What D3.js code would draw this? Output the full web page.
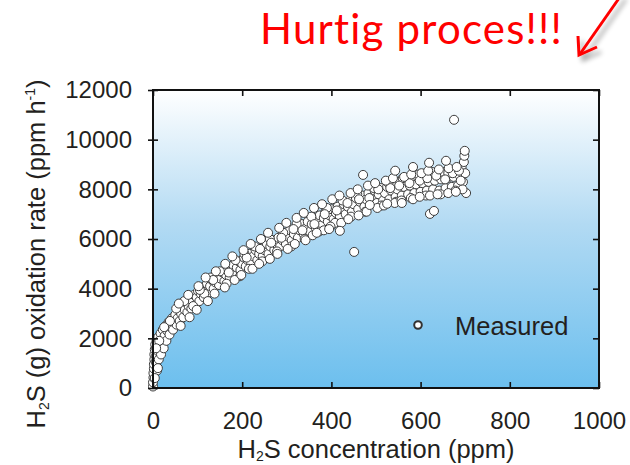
<!DOCTYPE html>
<html>
<head>
<meta charset="utf-8">
<script src="https://cdn.jsdelivr.net/npm/d3@7"></script>
<style>
    body { margin: 0; background: #fff; }
    text { font-family: "Liberation Sans", Arial, sans-serif; fill: #231f20; }
</style>
</head>
<body>
<script>
// tick labels for both axes
var xTicks = [0, 200, 400, 600, 800, 1000];
var yTicks = [0, 2000, 4000, 6000, 8000, 10000, 12000];

// measured points: [H2S concentration (ppm), oxidation rate (ppm h-1)]
var measured = [
    [0,60],[0,230],[1,420],[1,600],[2,780],[2,960],[3,1150],[3,1350],[4,1550],[5,1750],
    [6,1050],[7,1300],[8,1900],[9,700],[10,1500],[12,2050],[13,1150],[15,1700],[17,2200],[18,1350],
    [20,1900],[22,2350],[24,1600],[26,2100],[28,2500],[30,1900],[32,2300],[35,2650],[37,2150],[40,2450],
    [42,2800],[45,2350],[47,2650],[50,2950],[53,2550],[55,2800],[58,3150],[60,2700],[63,3000],[66,3300],
    [68,2850],[71,3150],[74,3450],[77,3050],[80,3300],[83,3600],[86,3200],[89,3500],[92,3750],[95,3350],
    [98,3650],[101,3900],[104,3500],[107,3800],[110,4050],[114,3650],[118,3950],[121,4200],[125,3850],[128,4100],
    [132,4350],[136,4000],[140,4250],[144,4500],[148,4150],[152,4400],[156,4650],[160,4300],[164,4550],[168,4800],
    [172,4450],[176,4700],[180,4950],[184,4600],[188,4850],[192,5100],[196,4750],[200,5000],[204,5250],[208,4900],
    [212,5150],[216,5400],[220,5050],[225,5300],[230,5550],[234,5150],[238,5400],[242,5650],[246,5300],[250,5550],
    [255,5800],[259,5400],[263,5700],[268,5950],[272,5550],[276,5800],[281,6050],[285,5700],[290,5950],[294,6200],
    [298,5800],[303,6100],[307,6350],[311,5950],[316,6200],[320,6450],[325,6050],[329,6350],[334,6600],[338,6200],
    [343,6450],[347,6700],[352,6300],[356,6600],[360,6850],[365,6450],[369,6700],[374,6950],[378,6550],[383,6850],
    [387,7100],[392,6700],[396,6950],[400,7200],[405,6800],[410,7050],[414,7300],[419,6900],[423,7200],[428,7400],
    [432,7000],[437,7300],[441,7550],[446,7100],[450,7400],[455,7650],[460,7200],[464,7500],[469,7750],[474,7300],
    [478,7600],[483,7850],[488,7400],[492,7700],[497,7950],[502,7450],[506,7800],[511,8050],[516,7550],[520,7850],
    [525,8100],[530,7600],[534,7950],[539,8200],[544,7700],[548,8000],[553,8300],[558,7750],[562,8100],[567,8350],
    [572,7800],[576,8150],[581,8400],[586,7850],[590,8200],[595,8450],[600,7900],[604,8250],[609,8550],[614,7950],
    [618,8300],[623,8600],[628,8000],[632,8350],[637,8650],[642,7950],[646,8400],[651,8700],[656,8050],[660,8450],
    [665,8750],[670,8100],[674,8500],[679,8800],[684,8150],[688,8550],[692,8900],[695,8300],[697,9100],[698,9350],
    [699,9550],[700,8650],[702,7850],[694,8000],
    [205,5400],[215,4800],[228,5700],[245,5100],[262,6000],[278,5500],[292,6250],[310,5700],[322,6600],[340,6000],
    [355,6900],[372,6300],[390,7250],[408,6650],[425,7550],[444,6900],[458,7800],[476,7100],[495,8050],[512,7350],
    [528,8250],[545,7500],[560,8450],[578,7650],[596,8600],[612,7750],[626,8700],[645,7800],[662,8650],[678,7950],
    [690,8350],[150,4700],[165,4200],[185,5150],[195,4500],[130,4450],[115,3800],[90,3300],[70,3500],[52,3200],
    [38,2700],[25,2450],[14,1900],[11,800],[7,1600],[4,400],
    // lower side of the band
    [62,2500],[82,2850],[98,3150],[123,3500],[138,3800],[161,4050],[183,4350],[198,4550],[223,4800],[238,5000],
    [262,5200],[279,5400],[302,5600],[318,5800],[342,5950],[358,6150],[383,6350],[398,6500],[422,6650],[438,6800],
    [461,6950],[479,7100],[503,7250],[518,7350],[542,7450],[557,7550],[583,7600],[598,7700],[621,7750],[638,7800],
    [662,7850],[679,7900],
    // middle fill
    [105,3950],[135,4350],[170,4650],[210,5250],[240,5600],[265,5850],[288,6050],[315,6400],[335,6350],[362,6600],
    [385,7000],[412,7150],[436,7450],[462,7600],[485,7650],[505,8000],[532,8050],[552,8150],[575,8250],[598,8350],
    [615,8450],[635,8550],[655,8400],[672,8650],[686,8750],
    // upper side of the band
    [58,3400],[79,3750],[102,4100],[118,4450],[141,4700],[162,5000],[178,5300],[203,5550],[219,5800],[242,6000],
    [258,6250],[283,6450],[299,6650],[322,6850],[338,7050],[361,7250],[379,7400],[402,7600],[418,7750],[443,7850],
    [459,8000],[482,8150],[498,8250],[522,8350],[538,8450],[563,8500],[579,8600],[602,8650],[617,8750],[641,8800],
    [663,8850],[681,8900],
    // stray points
    [675,10800],[451,5480],[621,7010],[630,7130],[367,6250],[395,6400],[419,6330],[471,8580],
    [525,7420],[619,9070],[657,9150],[583,8900],[543,8750],[486,7370],[558,7450]
];

window.onload = function(){
    var w = 630, h = 465;
    var left = 153, right = 599, top = 90, bottom = 388;

    var svg = d3.select("body")
        .append("svg")
        .attr("width", w)
        .attr("height", h);

    var defs = svg.append("defs");

    // white-to-blue fill of the plot area
    var grad = defs.append("linearGradient")
        .attr("id", "bg")
        .attr("x1", 0).attr("y1", 0)
        .attr("x2", 0).attr("y2", 1);
    grad.append("stop").attr("offset", "0%").attr("stop-color", "#ffffff");
    grad.append("stop").attr("offset", "45%").attr("stop-color", "#b2daf3");
    grad.append("stop").attr("offset", "100%").attr("stop-color", "#6cbfee");

    // soft shadow behind the red arrow
    var shadow = defs.append("filter")
        .attr("id", "shadow")
        .attr("x", "-50%").attr("y", "-50%")
        .attr("width", "200%").attr("height", "200%");
    shadow.append("feGaussianBlur").attr("in", "SourceAlpha").attr("stdDeviation", 2.5);
    shadow.append("feOffset").attr("dx", 4).attr("dy", 5).attr("result", "off");
    shadow.append("feComponentTransfer").append("feFuncA").attr("type", "linear").attr("slope", 0.35);
    var merge = shadow.append("feMerge");
    merge.append("feMergeNode");
    merge.append("feMergeNode").attr("in", "SourceGraphic");

    // scales
    var x = d3.scaleLinear()
        .domain([0, 1000])
        .range([left, right]);
    var y = d3.scaleLinear()
        .domain([0, 12000])
        .range([bottom, top]);

    // plot background
    svg.append("rect")
        .attr("x", left)
        .attr("y", top)
        .attr("width", right - left)
        .attr("height", bottom - top)
        .style("fill", "url(#bg)");

    // points
    svg.selectAll(".pt")
        .data(measured)
        .enter()
        .append("circle")
        .attr("class", "pt")
        .attr("cx", function(d){ return x(d[0]); })
        .attr("cy", function(d){ return y(d[1]); })
        .attr("r", 4.5)
        .style("fill", "#ffffff")
        .style("stroke", "#3c3c3c")
        .style("stroke-width", 1);

    // axes: ticks inside on bottom/top/right, across on the left
    var fmt = d3.format("d");
    var xAxis = svg.append("g")
        .attr("class", "axis")
        .attr("transform", "translate(0," + bottom + ")")
        .call(d3.axisBottom(x).tickValues(xTicks).tickFormat(fmt).tickSizeInner(-6).tickSizeOuter(0).tickPadding(24));
    var xTop = svg.append("g")
        .attr("transform", "translate(0," + top + ")")
        .call(d3.axisTop(x).tickValues(xTicks).tickSizeInner(-6).tickSizeOuter(0).tickFormat(""));
    var yAxis = svg.append("g")
        .attr("class", "axis")
        .attr("transform", "translate(" + left + ",0)")
        .call(d3.axisLeft(y).tickValues(yTicks).tickFormat(fmt).tickSizeInner(5).tickSizeOuter(0).tickPadding(16));
    yAxis.selectAll(".tick").append("line")
        .attr("x2", 5)
        .attr("stroke", "currentColor");
    var yRight = svg.append("g")
        .attr("transform", "translate(" + right + ",0)")
        .call(d3.axisRight(y).tickValues(yTicks).tickSizeInner(-6).tickSizeOuter(0).tickFormat(""));

    svg.selectAll(".domain").remove();
    svg.selectAll(".tick line").attr("stroke", "#111").attr("stroke-width", 1.6);
    svg.selectAll(".axis .tick text")
        .attr("font-family", "Liberation Sans, Arial, sans-serif")
        .attr("font-size", 24)
        .style("fill", "#231f20");

    // frame
    svg.append("rect")
        .attr("x", left)
        .attr("y", top)
        .attr("width", right - left)
        .attr("height", bottom - top)
        .style("fill", "none")
        .style("stroke", "#111")
        .style("stroke-width", 2);

    // axis titles
    var xTitle = svg.append("text")
        .attr("text-anchor", "middle")
        .attr("x", (left + right) / 2)
        .attr("y", 458)
        .style("font-size", "25.5px");
    xTitle.append("tspan").text("H");
    xTitle.append("tspan").attr("dy", 3).style("font-size", "14px").text("2");
    xTitle.append("tspan").attr("dy", -3).text("S concentration (ppm)");

    var yTitle = svg.append("text")
        .attr("text-anchor", "middle")
        .attr("transform", "translate(45,254) rotate(-90)")
        .style("font-size", "25.5px");
    yTitle.append("tspan").text("H");
    yTitle.append("tspan").attr("dy", 4).style("font-size", "14px").text("2");
    yTitle.append("tspan").attr("dy", -4).text("S (g) oxidation rate (ppm h");
    yTitle.append("tspan").attr("dy", -10).style("font-size", "14px").text("-1");
    yTitle.append("tspan").attr("dy", 10).text(")");

    // legend
    svg.append("circle")
        .attr("cx", 418)
        .attr("cy", 325)
        .attr("r", 3.8)
        .style("fill", "#fff")
        .style("stroke", "#333")
        .style("stroke-width", 2);
    svg.append("text")
        .attr("x", 455)
        .attr("y", 335)
        .style("font-size", "25.5px")
        .text("Measured");

    // red note with arrow
    svg.append("text")
        .attr("x", 260)
        .attr("y", 44)
        .style("font-family", "Lato, 'Open Sans', sans-serif")
        .style("font-size", "42px")
        .style("letter-spacing", "1.2px")
        .style("font-variant-ligatures", "none")
        .style("fill", "#ff0000")
        .text("Hurtig proces!!!");

    var arrow = svg.append("g").attr("filter", "url(#shadow)");
    arrow.append("line")
        .attr("x1", 622).attr("y1", -6)
        .attr("x2", 580).attr("y2", 54)
        .style("stroke", "#ff0000")
        .style("stroke-width", 3);
    arrow.append("polyline")
        .attr("points", "578,36 579,55 597,47")
        .style("fill", "none")
        .style("stroke", "#ff0000")
        .style("stroke-width", 3)
        .style("stroke-linejoin", "miter");
};
</script>
</body>
</html>
